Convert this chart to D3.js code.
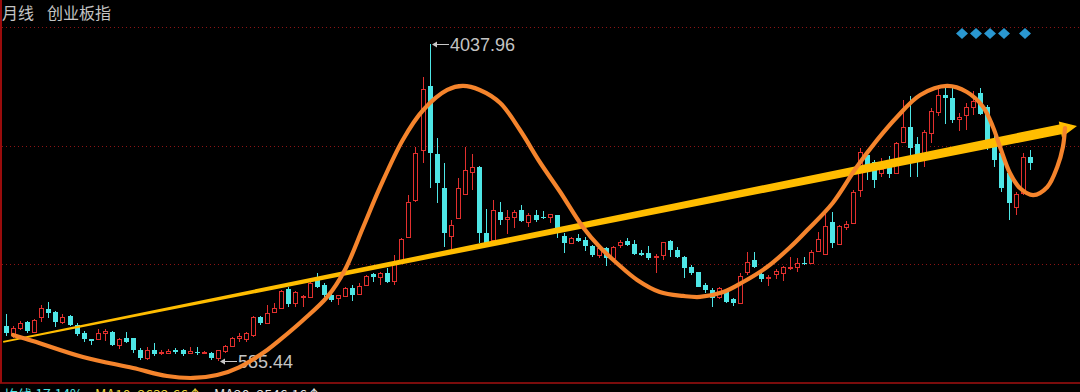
<!DOCTYPE html>
<html>
<head>
<meta charset="utf-8">
<script src="https://cdn.jsdelivr.net/npm/d3@7/dist/d3.min.js"></script>
<style>
  html, body { margin: 0; padding: 0; background: #000; overflow: hidden; }
  svg { display: block; }
</style>
</head>
<body>
<div id="chart"></div>
<script>
// monthly bars, 2010-06 .. 2022-07
const MONTHS = d3.utcMonth.range(new Date(Date.UTC(2010, 5, 1)), new Date(Date.UTC(2022, 7, 1)))
                 .map(d3.utcFormat("%Y-%m"));

const OPEN = [967,880,945,1010,902,1065,1152,1119,1010,1076,
  978,891,825,825,891,902,760,836,836,706,
  618,706,673,673,706,706,673,684,673,673,
  620,695,749,836,825,869,1065,1000,1119,1163,
  1370,1217,1283,1283,1479,1413,1304,1272,1294,1381,
  1315,1413,1533,1500,1544,1457,1686,1936,2339,2884,
  3581,2840,2470,1947,2143,2404,2644,2698,1980,1903,
  2208,2132,2154,2230,2099,2176,2154,2154,2176,1947,
  1871,1925,1903,1838,1740,1816,1707,1849,1893,1860,
  1762,1762,1718,1740,1893,1795,1718,1609,1555,1413,
  1359,1283,1337,1261,1217,1555,1686,1533,1490,1533,
  1544,1599,1609,1653,1653,1784,1751,2099,1860,2045,
  2089,2448,2829,2753,2633,2698,2633,2971,3134,2949,
  2829,3069,3297,3482,3450,3221,3265,3352,3504,3352,
  2960,2851,2633,2263,2415,2807];

const HIGH = [1098,967,1021,1021,1043,1196,1228,1125,1098,1087,
  1000,912,830,934,934,910,836,902,840,727,
  738,782,706,716,727,716,738,738,695,684,
  705,760,847,891,902,1076,1076,1196,1217,1359,
  1392,1348,1300,1457,1544,1435,1326,1304,1392,1413,
  1435,1522,1544,1555,1599,1740,1925,2393,2916,3679,
  4037.96,3014,2742,2121,2579,2916,2840,2710,2241,2339,
  2317,2230,2230,2285,2197,2230,2220,2190,2180,1980,
  1936,1969,1936,1849,1827,1827,1838,1903,1925,1903,
  1795,1838,1751,1882,1903,1827,1729,1631,1560,1435,
  1381,1392,1345,1272,1544,1773,1773,1555,1522,1588,
  1620,1718,1707,1718,1795,1991,2187,2208,2067,2110,
  2448,2905,2835,2775,2796,2818,2971,3428,3472,3025,
  3101,3341,3591,3570,3559,3286,3395,3526,3559,3374,
  3069,2960,2644,2426,2851,2884];

const LOW = [858,836,923,891,891,1010,1054,956,989,967,
  858,793,760,820,804,749,716,782,673,597,
  600,640,651,662,662,640,662,651,662,600,
  585.44,675,738,793,793,847,978,995,1108,1152,
  1174,1174,1174,1272,1381,1283,1228,1196,1283,1239,
  1304,1402,1446,1413,1435,1413,1675,1925,2317,2742,
  2470,2306,1827,1795,2132,2393,2448,1871,1860,1893,
  2067,1969,2034,2099,2045,2099,2135,2089,1925,1762,
  1860,1882,1784,1718,1707,1620,1696,1816,1838,1740,
  1729,1686,1544,1686,1718,1707,1490,1522,1392,1326,
  1174,1261,1217,1185,1206,1522,1599,1446,1402,1479,
  1457,1577,1555,1631,1642,1773,1740,1816,1849,2012,
  2078,2372,2557,2470,2590,2579,2622,2960,2590,2590,
  2698,2960,3250,3167,3178,3090,3101,3265,3265,2884,
  2698,2426,2121,2176,2393,2666];

const CLOSE = [891,945,1000,912,1032,1163,1108,1010,1065,978,
  880,825,804,891,912,760,825,793,706,618,
  706,662,684,695,684,662,695,673,684,618,
  700,749,836,858,891,1065,1000,1108,1163,1348,
  1206,1337,1294,1435,1392,1304,1250,1304,1381,1304,
  1402,1511,1500,1544,1446,1653,1914,2317,2851,3548,
  2851,2524,1980,2067,2470,2666,2698,1980,1871,2230,
  2121,2154,2208,2110,2176,2121,2140,2187,1991,1871,
  1925,1893,1838,1740,1816,1707,1827,1882,1849,1751,
  1740,1707,1729,1882,1795,1718,1599,1544,1392,1359,
  1272,1381,1228,1217,1511,1664,1609,1479,1500,1566,
  1609,1609,1653,1642,1773,1914,2056,1871,2056,2078,
  2426,2862,2698,2557,2677,2622,2960,3134,2905,2807,
  3080,3308,3482,3450,3210,3243,3352,3417,3276,2971,
  2775,2470,2306,2404,2807,2742];

// hand drawn wave, in (month index, index level)
const WAVE_I = [1.0,3.8,10.9,18.0,22.8,26.5,29.9,33.1,37.0,38.8,
  42.1,45.5,48.0,50.6,53.0,56.2,59.1,62.5,64.7,67.1,
  70.0,72.8,75.6,78.5,81.7,84.1,86.5,89.4,92.6,95.9,
  98.3,101.6,104.4,107.8,111.1,113.5,117.1,120.5,123.4,126.2,
  129.5,133.3,136.1,138.4,139.8,140.8,142.2,143.6,145.5,147.5,
  148.9,149.7,150.0];
const WAVE_V = [869,804,629,509,422,401,433,520,706,815,
  1032,1283,1577,2045,2481,2993,3319,3537,3581,3537,
  3395,3101,2753,2426,2045,1827,1653,1468,1337,1294,
  1283,1337,1446,1609,1827,2012,2306,2698,2993,3243,
  3482,3581,3515,3352,3134,2916,2633,2470,2393,2481,
  2698,2916,3123];

// trend arrow, start and tip
const TREND_I = [-0.4, 151.7];
const TREND_V = [793, 3145];

// dotted level lines and bottom edge
const GRID_LEVELS = [4223, 2930.7, 1638.3];
const BOTTOM_LEVEL = 346;

const FOOTER = [
  {text: "均线 17.14%", color: "#4ee6e6"},
  {text: "MA10: 2632.66↑", color: "#e8d23a"},
  {text: "MA20: 2546.16↑", color: "#e0e0e0"}
];

const FRAME_WIDTH = 1080;
const FRAME_HEIGHT = 392;
const UP_COLOR = "#e2302e";
const DOWN_COLOR = "#4ee6e6";

const FRAME = d3.select("#chart")
  .append("svg")
    .attr("width", FRAME_WIDTH)
    .attr("height", FRAME_HEIGHT)
    .style("background", "#000");

const X_SCALE = d3.scaleLinear().domain([0, MONTHS.length - 1]).range([6, 1029.7]);
const Y_SCALE = d3.scaleLinear().domain([BOTTOM_LEVEL, 4223]).range([383, 27]);

// grid
FRAME.append("g").selectAll("line")
  .data(GRID_LEVELS)
  .enter().append("line")
    .attr("x1", 2).attr("x2", FRAME_WIDTH)
    .attr("y1", d => Math.round(Y_SCALE(d)) + 0.5)
    .attr("y2", d => Math.round(Y_SCALE(d)) + 0.5)
    .attr("stroke", "#8c1414")
    .attr("stroke-dasharray", "1,3");

FRAME.append("rect")
  .attr("x", 0).attr("y", Math.round(Y_SCALE(BOTTOM_LEVEL)) - 1)
  .attr("width", FRAME_WIDTH).attr("height", 2)
  .attr("fill", "#7a0c0c");

FRAME.append("rect")
  .attr("x", 0).attr("y", 0)
  .attr("width", 2).attr("height", Math.round(Y_SCALE(BOTTOM_LEVEL)))
  .attr("fill", "#9a0c0c");

// candles
const bars = MONTHS.map((m, i) => ({m: m, i: i, o: OPEN[i], h: HIGH[i], l: LOW[i], c: CLOSE[i]}));
const candles = FRAME.append("g").selectAll("g")
  .data(bars)
  .enter().append("g");

candles.append("line")
  .attr("x1", d => Math.round(X_SCALE(d.i)) + 0.5)
  .attr("x2", d => Math.round(X_SCALE(d.i)) + 0.5)
  .attr("y1", d => Math.round(Y_SCALE(d.h)))
  .attr("y2", d => Math.round(Y_SCALE(d.l)))
  .attr("stroke", d => d.c >= d.o ? UP_COLOR : DOWN_COLOR);

candles.filter(d => d.c >= d.o).append("rect")
  .attr("x", d => Math.round(X_SCALE(d.i)) - 1.5)
  .attr("y", d => Math.round(Y_SCALE(d.c)) + 0.5)
  .attr("width", 4)
  .attr("height", d => Math.max(Math.round(Y_SCALE(d.o)) - Math.round(Y_SCALE(d.c)), 1))
  .attr("fill", "#000")
  .attr("stroke", UP_COLOR);

candles.filter(d => d.c < d.o).append("rect")
  .attr("x", d => Math.round(X_SCALE(d.i)) - 2)
  .attr("y", d => Math.round(Y_SCALE(d.o)))
  .attr("width", 5)
  .attr("height", d => Math.max(Math.round(Y_SCALE(d.c)) - Math.round(Y_SCALE(d.o)), 1))
  .attr("fill", DOWN_COLOR);

// max / min markers
function extremeLabel(i, v) {
  const x = Math.round(X_SCALE(i)) + 2;
  const y = Math.round(Y_SCALE(v)) + 0.5;
  const g = FRAME.append("g");
  g.append("line")
    .attr("x1", x + 1).attr("x2", x + 17)
    .attr("y1", y).attr("y2", y)
    .attr("stroke", "#c8c8c8");
  g.append("path")
    .attr("d", "M" + x + "," + y + "L" + (x + 5) + "," + (y - 3) + "L" + (x + 5) + "," + (y + 3) + "Z")
    .attr("fill", "#c8c8c8");
  g.append("text")
    .attr("x", x + 18).attr("y", y)
    .attr("dy", "0.36em")
    .attr("font-family", "'Liberation Sans', Arial, sans-serif")
    .attr("font-size", "18px")
    .attr("fill", "#c4c4c4")
    .text(d3.format(".2f")(v));
}
const maxI = d3.maxIndex(HIGH);
const minI = d3.minIndex(LOW);
extremeLabel(maxI, HIGH[maxI]);
extremeLabel(minI, LOW[minI]);

// trend arrow
const p0 = [X_SCALE(TREND_I[0]), Y_SCALE(TREND_V[0])];
const p1 = [X_SCALE(TREND_I[1]), Y_SCALE(TREND_V[1])];
const len = Math.hypot(p1[0] - p0[0], p1[1] - p0[1]);
const ux = (p1[0] - p0[0]) / len, uy = (p1[1] - p0[1]) / len;
const nx = -uy, ny = ux;
const HEAD_LEN = 17, HEAD_HALF = 8, W0 = 0.9, W1 = 5;
const b = [p1[0] - ux * HEAD_LEN, p1[1] - uy * HEAD_LEN];
const arrowPts = [
  [p0[0] + nx * W0, p0[1] + ny * W0],
  [b[0] + nx * W1, b[1] + ny * W1],
  [b[0] + nx * HEAD_HALF, b[1] + ny * HEAD_HALF],
  p1,
  [b[0] - nx * HEAD_HALF, b[1] - ny * HEAD_HALF],
  [b[0] - nx * W1, b[1] - ny * W1],
  [p0[0] - nx * W0, p0[1] - ny * W0]
];
FRAME.append("path")
  .attr("d", "M" + arrowPts.map(p => p.join(",")).join("L") + "Z")
  .attr("fill", "#ffbd00");

// wave
const wave = WAVE_I.map((d, k) => ({i: d, v: WAVE_V[k]}));
FRAME.append("path")
  .datum(wave)
  .attr("d", d3.line()
    .x(d => X_SCALE(d.i))
    .y(d => Y_SCALE(d.v))
    .curve(d3.curveCatmullRom.alpha(0.5)))
  .attr("fill", "none")
  .attr("stroke", "#f5842c")
  .attr("stroke-width", 4.2)
  .attr("stroke-linecap", "round")
  .attr("stroke-linejoin", "round");

// title
FRAME.append("text")
  .attr("x", 2).attr("y", 19)
  .attr("font-family", "'Noto Sans CJK SC', sans-serif")
  .attr("font-size", "16px")
  .attr("fill", "#c4c4c4")
  .text("月线");
FRAME.append("text")
  .attr("x", 47).attr("y", 19)
  .attr("font-family", "'Noto Sans CJK SC', sans-serif")
  .attr("font-size", "16px")
  .attr("fill", "#c4c4c4")
  .text("创业板指");

// info diamonds
const MARK_X = [962, 976, 990, 1004, 1025];
FRAME.append("g").selectAll("path")
  .data(MARK_X)
  .enter().append("path")
    .attr("d", d => "M" + d + ",28L" + (d + 6) + ",33.5L" + d + ",39L" + (d - 6) + ",33.5Z")
    .attr("fill", "#2a97d0");

// footer (cut by the window edge)
let fx = 4;
FOOTER.forEach(f => {
  const t = FRAME.append("text")
    .attr("x", fx).attr("y", 400)
    .attr("font-family", "'Noto Sans CJK SC', sans-serif")
    .attr("font-size", "14px")
    .attr("fill", f.color)
    .text(f.text);
  fx += t.node().getComputedTextLength() + 12;
});
</script>
</body>
</html>
